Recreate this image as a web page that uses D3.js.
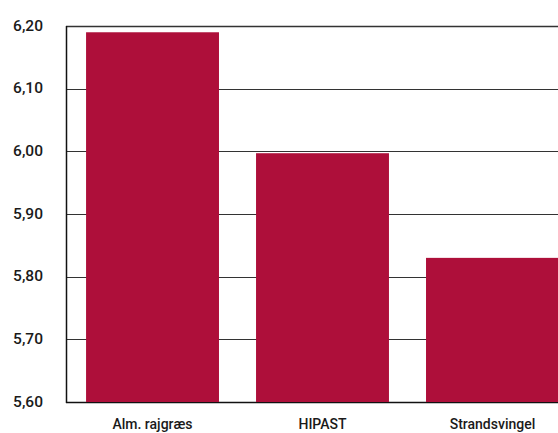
<!DOCTYPE html>
<html>
<head>
<meta charset="utf-8">
<script src="https://d3js.org/d3.v7.min.js"></script>
<style>
  body { margin: 0; background: #fff; }
  text { font-family: Roboto, sans-serif; fill: #1a1a1a; }
</style>
</head>
<body>
<div id="chart"></div>
<script>
// data
var categories = ["Alm. rajgræs", "HIPAST", "Strandsvingel"]
var values = [6.19, 5.997, 5.83]
var yTicks = [5.6, 5.7, 5.8, 5.9, 6.0, 6.1, 6.2]

var width = 558, height = 433
var plotLeft = 66, plotTop = 26, plotBottom = 402

var svg = d3.select("#chart").append("svg")
    .attr("width", width)
    .attr("height", height)

var y = d3.scaleLinear()
    .domain([5.6, 6.2])
    .range([plotBottom, plotTop])

var x = d3.scaleBand()
    .domain(categories)
    .range([plotLeft, 579])
    .paddingInner(0.218)
    .paddingOuter(0.118)

// gridlines
svg.append("g")
    .selectAll("line")
    .data(yTicks)
    .join("line")
    .attr("x1", plotLeft)
    .attr("x2", width)
    .attr("y1", d => Math.round(y(d)) + 0.5)
    .attr("y2", d => Math.round(y(d)) + 0.5)
    .attr("stroke", d => d == 5.6 ? "#111" : "#333")
    .attr("stroke-width", d => (d == 5.6 || d == 6.2) ? 1.5 : 1.2)

// bars
svg.append("g")
    .selectAll("rect")
    .data(values)
    .join("rect")
    .attr("x", (d, i) => x(categories[i]))
    .attr("y", d => y(d))
    .attr("width", x.bandwidth())
    .attr("height", d => y(5.6) - y(d))
    .attr("fill", "#ae0f3a")

// left axis line
svg.append("line")
    .attr("x1", plotLeft + 0.5).attr("x2", plotLeft + 0.5)
    .attr("y1", plotTop).attr("y2", plotBottom + 1)
    .attr("stroke", "#111")
    .attr("stroke-width", 1.5)

// y labels
svg.append("g")
    .selectAll("text")
    .data(yTicks)
    .join("text")
    .attr("x", 43)
    .attr("y", d => y(d))
    .attr("dy", "0.3em")
    .attr("text-anchor", "end")
    .style("font-size", "15.5px")
    .style("font-weight", 500)
    .text(d => d3.format(".2f")(d).replace(".", ","))

// x labels
svg.append("g")
    .selectAll("text")
    .data(categories)
    .join("text")
    .attr("x", d => x(d) + x.bandwidth() / 2)
    .attr("y", 429)
    .attr("text-anchor", "middle")
    .style("font-size", "14px")
    .style("font-weight", 500)
    .text(d => d)
</script>
</body>
</html>
